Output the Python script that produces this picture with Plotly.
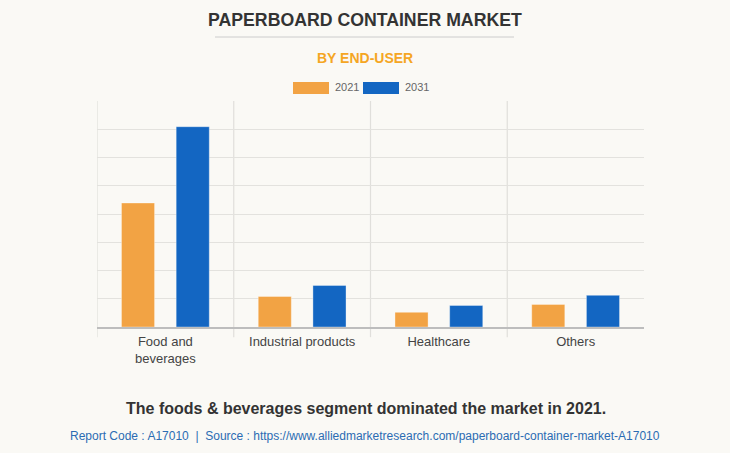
import plotly.graph_objects as go

categories = ["Food and<br>beverages", "Industrial products", "Healthcare", "Others"]
years = ["2021", "2031"]
values_2021 = [43.9, 10.8, 5.2, 8.0]
values_2031 = [70.9, 14.7, 7.6, 11.2]
colors = ["#F2A344", "#1366C2"]

BG = "#FAF9F5"

fig = go.Figure()
for name, vals, col in zip(years, [values_2021, values_2031], colors):
    fig.add_trace(go.Bar(
        x=categories, y=vals, name=name,
        marker=dict(color=col, line=dict(color="rgba(255,255,255,0.35)", width=1)),
        hoverinfo="x+y+name",
    ))

fig.update_layout(
    width=730, height=453,
    paper_bgcolor=BG, plot_bgcolor=BG,
    margin=dict(l=97, r=86, t=101, b=126),
    barmode="group", bargap=0.2, bargroupgap=0.395,
    showlegend=False,
    font=dict(family="Liberation Sans, Arial, sans-serif", color="#444"),
)
fig.update_xaxes(
    showgrid=False, showline=True, linecolor="#BDBDBD", linewidth=1.5,
    ticks="", tickfont=dict(size=13, color="#444"), ticklabelstandoff=2,
    range=[-0.5, 3.5],
)
fig.update_yaxes(
    range=[0, 80], dtick=10, showgrid=True, gridcolor="#E3E2DE", gridwidth=1,
    showticklabels=False, zeroline=False, showline=False, ticks="",
)

# vertical category separators (extending slightly below baseline)
for xb in [-0.5, 0.5, 1.5, 2.5]:
    fig.add_shape(type="line", xref="x", yref="paper", x0=xb, x1=xb, y0=-0.045, y1=1,
                  line=dict(color="#E0DFDB", width=1.2), layer="below")

# title underline
fig.add_shape(type="line", xref="paper", yref="paper",
              x0=(215 - 97) / 547, x1=(514 - 97) / 547,
              y0=(327 - 37) / 226, y1=(327 - 37) / 226,
              line=dict(color="#CCCCCC", width=1))

# legend boxes
for (x0, x1), col in zip([(293, 329), (363, 399)], colors):
    fig.add_shape(type="rect", xref="paper", yref="paper",
                  x0=(x0 - 97) / 547, x1=(x1 - 97) / 547,
                  y0=(327 - 94) / 226, y1=(327 - 82) / 226,
                  fillcolor=col, line=dict(width=0))

def ann(text, x, y, size, color, bold=False, xanchor="center"):
    fig.add_annotation(text=f"<b>{text}</b>" if bold else text,
                       xref="paper", yref="paper",
                       x=(x - 97) / 547, y=(327 - y) / 226,
                       xanchor=xanchor, yanchor="middle", showarrow=False,
                       font=dict(size=size, color=color,
                                 family="Liberation Sans, Arial, sans-serif"))

ann("PAPERBOARD CONTAINER MARKET", 365, 20, 17.7, "#333333", bold=True)
ann("BY END-USER", 365, 58, 14, "#F5A623", bold=True)
ann(years[0], 333, 87, 11, "#666666", xanchor="left")
ann(years[1], 403, 87, 11, "#666666", xanchor="left")
ann("The foods &amp; beverages segment dominated the market in 2021.", 366, 408, 16, "#333333", bold=True)
ann("Report Code : A17010  |  Source : https://www.alliedmarketresearch.com/paperboard-container-market-A17010",
    365, 436, 12, "#2B6CB3")

fig.write_html("out.html", config={"displayModeBar": False},
               post_script="document.body.style.margin='0';document.body.style.padding='0';")
